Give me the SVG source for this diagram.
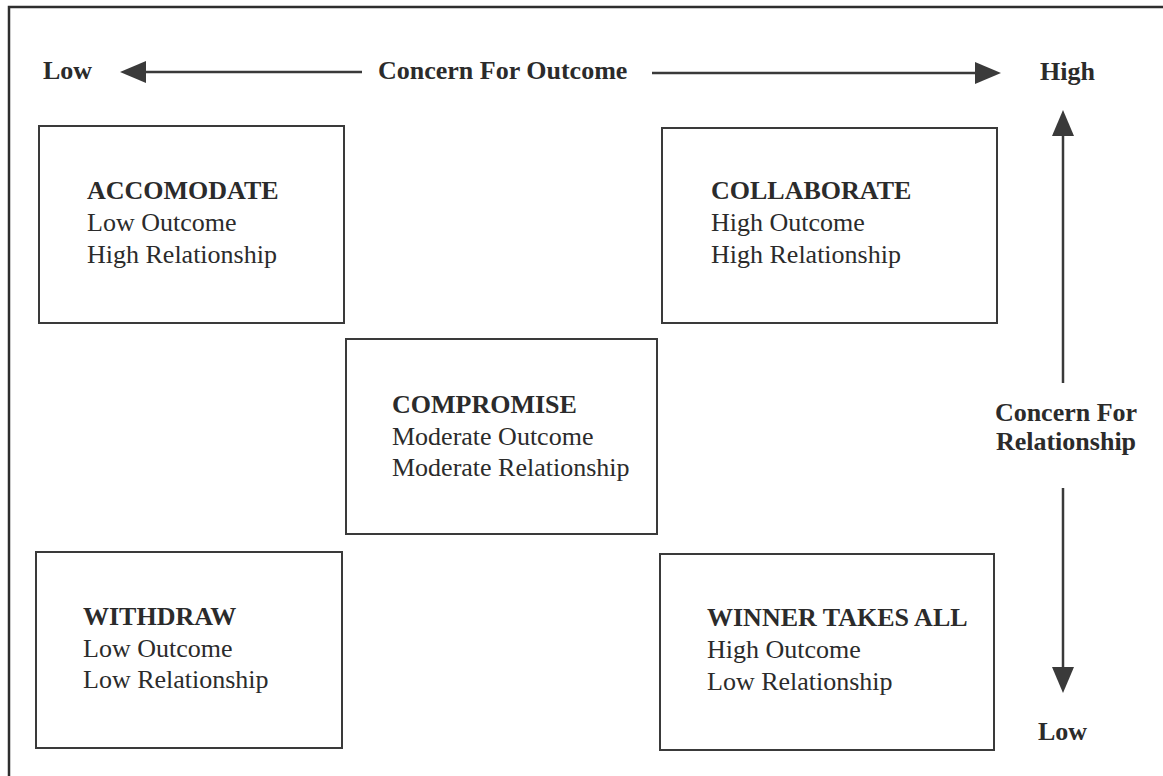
<svg xmlns="http://www.w3.org/2000/svg" width="1163" height="776" viewBox="0 0 1163 776">
  <style>
    .frame { fill: none; stroke: #2e2e2e; stroke-width: 2.5; }
    .box { fill: none; stroke: #3a3a3a; stroke-width: 2; }
    .axis { stroke: #3a3a3a; stroke-width: 2.5; fill: none; }
    .head { fill: #3a3a3a; }
    .title { font-family: "Liberation Serif", "Times New Roman", serif; font-size: 26px; font-weight: bold; fill: #2b2b2b; }
    .body { font-family: "Liberation Serif", "Times New Roman", serif; font-size: 26px; fill: #2b2b2b; }
    .label { font-family: "Liberation Serif", "Times New Roman", serif; font-size: 26px; font-weight: bold; fill: #2b2b2b; }
  </style>

  <rect x="0" y="0" width="1163" height="776" fill="#ffffff"/>

  <!-- outer frame: top and left edges -->
  <path class="frame" d="M9,776 L9,7 L1163,7"/>

  <!-- axis arrows -->
  <g id="connectors">
    <line class="axis" x1="145" y1="72" x2="362" y2="72"/>
    <polygon class="head" points="120,72 146,61 146,83"/>
    <line class="axis" x1="652" y1="73" x2="976" y2="73"/>
    <polygon class="head" points="1001,73 975,62 975,84"/>
    <line class="axis" x1="1063" y1="135" x2="1063" y2="383"/>
    <polygon class="head" points="1063,110 1052,136 1074,136"/>
    <line class="axis" x1="1063" y1="488" x2="1063" y2="668"/>
    <polygon class="head" points="1063,693 1052,667 1074,667"/>
  </g>

  <!-- axis labels -->
  <g id="axis-labels">
    <text class="label" x="43" y="79">Low</text>
    <text class="label" x="378" y="79">Concern For Outcome</text>
    <text class="label" x="1040" y="80">High</text>
    <text class="label" x="1066" y="421" text-anchor="middle">Concern For</text>
    <text class="label" x="1066" y="450" text-anchor="middle">Relationship</text>
    <text class="label" x="1038" y="740">Low</text>
  </g>

  <g id="accomodate">
    <rect class="box" x="39" y="126" width="305" height="197"/>
    <text class="title" x="87" y="199">ACCOMODATE</text>
    <text class="body" x="87" y="231">Low Outcome</text>
    <text class="body" x="87" y="263">High Relationship</text>
  </g>

  <g id="collaborate">
    <rect class="box" x="662" y="128" width="335" height="195"/>
    <text class="title" x="711" y="199">COLLABORATE</text>
    <text class="body" x="711" y="231">High Outcome</text>
    <text class="body" x="711" y="263">High Relationship</text>
  </g>

  <g id="compromise">
    <rect class="box" x="346" y="339" width="311" height="195"/>
    <text class="title" x="392" y="413">COMPROMISE</text>
    <text class="body" x="392" y="445">Moderate Outcome</text>
    <text class="body" x="392" y="476">Moderate Relationship</text>
  </g>

  <g id="withdraw">
    <rect class="box" x="36" y="552" width="306" height="196"/>
    <text class="title" x="83" y="625">WITHDRAW</text>
    <text class="body" x="83" y="657">Low Outcome</text>
    <text class="body" x="83" y="688">Low Relationship</text>
  </g>

  <g id="winner-takes-all">
    <rect class="box" x="660" y="554" width="334" height="196"/>
    <text class="title" x="707" y="626">WINNER TAKES ALL</text>
    <text class="body" x="707" y="658">High Outcome</text>
    <text class="body" x="707" y="690">Low Relationship</text>
  </g>
</svg>
